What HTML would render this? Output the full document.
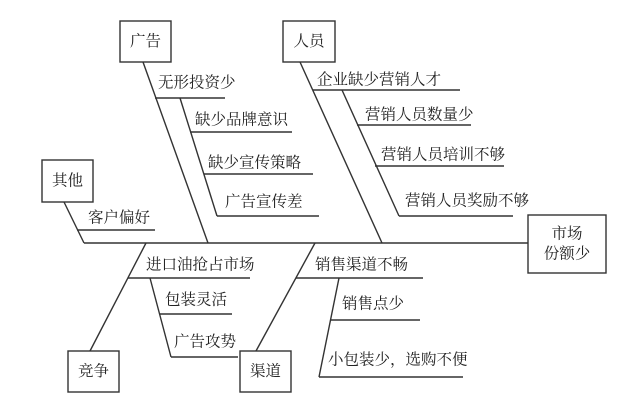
<!DOCTYPE html>
<html><head><meta charset="utf-8"><style>
html,body{margin:0;padding:0;background:#fff;}
svg{display:block;}
text{font-family:"Liberation Serif","Noto Serif CJK SC",serif;font-size:15.5px;fill:#222;dominant-baseline:central;}
</style></head><body>
<svg width="640" height="407" viewBox="0 0 640 407" xmlns="http://www.w3.org/2000/svg">
<g stroke="#333" stroke-width="1.4" fill="none">
<rect x="120" y="21" width="51" height="41"/>
<rect x="283" y="21" width="52" height="41"/>
<rect x="42" y="160" width="51" height="42"/>
<rect x="528" y="215" width="78" height="58"/>
<rect x="68" y="351" width="51" height="41"/>
<rect x="240" y="351" width="51" height="41"/>
<line x1="84" y1="243" x2="528" y2="243"/>
<line x1="143" y1="62" x2="208" y2="243"/>
<line x1="155" y1="98" x2="225" y2="98"/>
<line x1="180" y1="98" x2="217" y2="216"/>
<line x1="190" y1="132" x2="292" y2="132"/>
<line x1="204" y1="174" x2="313" y2="174"/>
<line x1="217" y1="216" x2="319" y2="216"/>
<line x1="300" y1="62" x2="382" y2="243"/>
<line x1="313" y1="90" x2="460" y2="90"/>
<line x1="342" y1="90" x2="399" y2="216"/>
<line x1="357" y1="125" x2="471" y2="125"/>
<line x1="375" y1="166" x2="504" y2="166"/>
<line x1="399" y1="216" x2="513" y2="216"/>
<line x1="64" y1="202" x2="84" y2="243"/>
<line x1="77" y1="230" x2="155" y2="230"/>
<line x1="146" y1="243" x2="90" y2="351"/>
<line x1="128" y1="278" x2="250" y2="278"/>
<line x1="150" y1="278" x2="171" y2="357"/>
<line x1="159" y1="314" x2="232" y2="314"/>
<line x1="171" y1="357" x2="238" y2="357"/>
<line x1="315" y1="243" x2="256" y2="351"/>
<line x1="296" y1="278" x2="423" y2="278"/>
<line x1="339" y1="278" x2="319" y2="377"/>
<line x1="330" y1="320" x2="420" y2="320"/>
<line x1="319" y1="377" x2="463" y2="377"/>
</g>
<text x="145.5" y="41.5" text-anchor="middle">广告</text>
<text x="309" y="41.5" text-anchor="middle">人员</text>
<text x="67.5" y="181" text-anchor="middle">其他</text>
<text x="567" y="234" text-anchor="middle">市场</text>
<text x="567" y="254" text-anchor="middle">份额少</text>
<text x="93.5" y="371.5" text-anchor="middle">竞争</text>
<text x="265.5" y="371.5" text-anchor="middle">渠道</text>
<text x="158" y="83">无形投资少</text>
<text x="195" y="120">缺少品牌意识</text>
<text x="208" y="163">缺少宣传策略</text>
<text x="225" y="202">广告宣传差</text>
<text x="317" y="80">企业缺少营销人才</text>
<text x="365" y="115">营销人员数量少</text>
<text x="381" y="155">营销人员培训不够</text>
<text x="405" y="201">营销人员奖励不够</text>
<text x="88" y="218">客户偏好</text>
<text x="146" y="265">进口油抢占市场</text>
<text x="165" y="300">包装灵活</text>
<text x="174" y="342">广告攻势</text>
<text x="315" y="265">销售渠道不畅</text>
<text x="342" y="304">销售点少</text>
<text x="328" y="360">小包装少，选购不便</text>
</svg>
</body></html>
